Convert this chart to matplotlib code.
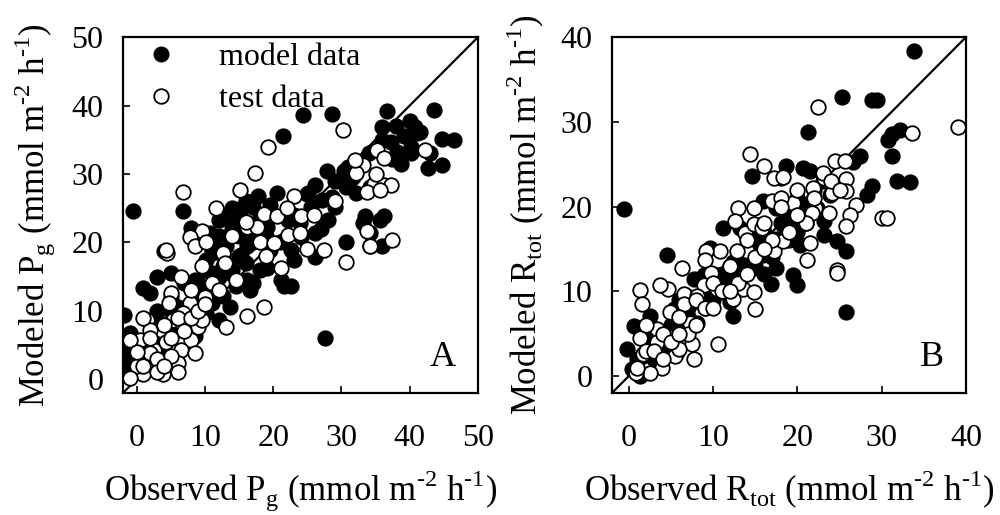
import matplotlib
matplotlib.use("Agg")
import matplotlib.pyplot as plt
from matplotlib.lines import Line2D

plt.rcParams['font.family'] = ['Liberation Serif', 'DejaVu Serif']
plt.rcParams['mathtext.fontset'] = 'custom'
plt.rcParams['mathtext.rm'] = 'Liberation Serif'

# ---------------- Panel A: gross photosynthesis ----------------
a_model_x = [24.4, 28.6, 36.7, 43.5, 21.4, 35.9, 40.0, 40.7, 41.5, 39.2, 44.7, 46.5, 40.2, 37.2,
             38.2, 40.2, 42.7, 44.7, 37.4, 27.9, 30.4, 31.2, 30.7, 26.1, 25.1, 28.6, 29.1, 28.1,
             27.1, -0.5, 6.8, 20.6, 17.8, 19.6, 17.1, 15.6, 13.6, 12.1, 10.8, 8.0, 11.6, 13.1,
             14.1, 12.6, 15.3, 16.1, 19.1, 22.1, 23.9, 26.1, 30.7, 26.1, 23.1, 22.6, 19.6, 18.1,
             19.1, 21.6, 22.6, 21.1, 33.4, 35.7, 36.2, 33.2, 34.2, 35.9, 1.0, 3.0, 5.0, 4.0,
             2.0, -1.8, 8.5, 9.0, 11.1, 12.6, 13.6, 12.1, 10.1, 27.6, 6.0, 7.5, -1.0, -2.0,
             -1.5, -1.8, -1.0, 0.5, 1.0, -0.5, 3.0, 6.0, 8.5, 3.5, 16.1, 16.6, 13.6, 14.6,
             17.1, 11.1, 10.1, 17.1, 18.1, 11.1, 12.6, 9.6, 15.1, 38.7, 31.7, 34.2, 32.2,
             25.6, 24.1, 34.2,
             9.0, 10.0, 11.0, 12.0, 13.0, 14.0, 15.0, 16.0, 17.0, 18.0, 12.0, 13.0, 14.0, 15.0,
             16.0, 9.0, 10.0, 11.0, 7.0, 8.0, 5.0, 6.0, 3.0, 4.0, 2.0, 1.0, 0.0, 3.0, 5.0,
             7.0, 14.0, 16.0, 19.0, 21.0, 23.0, 25.0, 27.0, 29.0, 31.0, 34.0, 36.0, 38.0,
             41.0, 43.0]
a_model_y = [38.6, 38.7, 39.2, 39.4, 35.5, 36.9, 37.8, 36.9, 36.1, 35.6, 35.1, 34.9, 33.9, 34.7,
             33.2, 33.0, 30.8, 31.3, 32.2, 30.5, 30.5, 29.1, 28.1, 28.4, 27.2, 26.7, 25.2, 23.3,
             26.2, 24.6, 24.6, 27.2, 26.8, 25.5, 25.2, 25.2, 24.2, 23.3, 21.3, 22.1, 20.8, 19.4,
             22.3, 18.2, 18.2, 19.4, 22.3, 23.3, 22.8, 21.3, 20.1, 17.9, 17.4, 18.9, 18.9, 16.0,
             16.2, 13.6, 13.6, 14.5, 23.8, 23.3, 23.8, 22.8, 21.3, 19.4, 13.3, 15.0, 15.5, 18.7,
             12.6, 9.4, 14.5, 13.6, 11.1, 12.1, 10.6, 8.7, 9.7, 6.0, 10.6, 10.2, 6.8, 5.8,
             3.8, 1.9, 0.9, 3.8, 1.4, 2.9, 8.7, 7.7, 6.3, 4.8, 14.5, 13.1, 15.5, 13.6,
             14.0, 18.4, 17.4, 21.3, 23.3, 15.5, 16.5, 12.6, 23.3, 31.5, 29.6, 28.1, 27.2,
             25.2, 20.8, 19.4,
             14.0, 16.0, 19.0, 21.0, 20.0, 22.0, 21.0, 23.0, 20.0, 24.0, 15.0, 17.0, 16.0, 18.0,
             17.0, 12.0, 11.0, 13.0, 9.0, 11.0, 10.0, 9.0, 6.0, 7.0, 5.0, 3.0, 1.0, 10.0, 12.0,
             14.0, 25.0, 26.0, 21.0, 20.0, 24.0, 27.0, 22.0, 29.0, 31.0, 33.0, 35.0, 37.0,
             36.0, 33.0]

a_test_x = [30.2, 19.3, 17.3, 6.8, 15.1, 23.1, 11.6, 18.6, 20.6, 24.1, 16.1, 17.6, 9.5, 7.8,
            8.5, 10.1, 12.6, 9.5, 4.5, 6.5, 14.6, 18.1, 22.1, 23.9, 21.1, 20.1, 24.9, 27.4,
            30.7, 18.6, 16.1, 13.1, 35.2, 36.2, 33.2, 32.2, 42.2, 34.7, 36.2, 37.2, 33.7, 35.7,
            33.7, 34.2, 37.4, 5.0, 4.8, 7.8, 6.8, 5.3, 3.5, 1.5, 2.0, 0.5, -1.0, 0.0,
            2.5, 4.3, 8.0, 6.5, 8.5, 6.0, 3.8, 1.0, 0.0, -1.0, 6.8, 9.0, 2.0, 5.0,
            3.0, 9.5, 4.3,
            1.0, 2.0, 3.0, 4.0, 5.0, 6.0, 7.0, 8.0, 9.0, 10.0, 11.0, 12.0, 0.0, 1.0,
            3.0, 4.0, 6.0, 8.0, 10.0, 13.0, 14.0, 16.0, 19.0, 22.0, 26.0, 29.0, 32.0, 35.0]
a_test_y = [36.4, 33.9, 30.1, 27.4, 27.6, 26.8, 25.0, 24.2, 23.8, 23.8, 22.3, 22.3, 21.6, 20.8,
            19.4, 20.1, 18.4, 16.5, 18.4, 15.0, 14.5, 20.1, 21.1, 21.3, 16.2, 19.9, 19.1, 18.9,
            17.2, 10.6, 9.2, 7.7, 33.5, 32.3, 31.3, 30.1, 33.5, 28.6, 28.4, 28.4, 27.4, 27.6,
            21.6, 19.4, 20.4, 12.6, 11.1, 11.1, 9.7, 8.7, 7.2, 8.7, 7.2, 5.8, 5.8, 3.8,
            4.3, 5.5, 5.8, 4.3, 3.8, 2.4, 0.7, 0.7, 1.9, 0.2, 7.7, 7.7, 3.8, 3.4,
            1.9, 8.7, 18.9,
            2.0, 6.0, 3.0, 8.0, 6.0, 9.0, 7.0, 9.0, 10.0, 12.0, 14.0, 13.0, 4.0, 9.0,
            1.0, 2.0, 1.0, 13.0, 11.0, 17.0, 21.0, 23.0, 18.0, 25.0, 24.0, 26.0, 32.0, 30.0]

# ---------------- Panel B: total respiration ----------------
b_model_x = [33.8, 25.3, 28.8, 29.4, 21.3, -0.6, 31.2, 32.2, 30.8, 31.2, 31.8, 33.4, 28.8, 28.2,
             27.4, 26.6, 25.8, 25.8, 20.7, 21.5, 18.7, 14.6, 18.1, 4.5, 23.1, 24.7, 20.3, 19.9,
             19.5, 16.9, 17.5, 15.2, 14.8, 12.4, 12.0, 10.4, 9.6, 11.2, 15.9, 17.5, 19.1, 0.6,
             -0.2, 0.4, 1.3, 2.5, 3.3, 5.3, 6.9, 7.7, 8.9, 8.1, 6.5, 12.8, 14.0, 15.6,
             17.5, 18.3, 15.9, 13.2, 12.4, 11.2, 9.2, 4.5, 5.7, 1.7, 22.3, 23.9, 23.1,
             3.0, 4.0, 5.0, 6.0, 7.0, 8.0, 9.0, 10.0, 11.0, 12.0, 13.0, 14.0, 15.0, 16.0,
             17.0, 18.0, 19.0, 20.0, 21.0, 22.0, 23.0, 2.0, 3.0, 5.0, 7.0, 9.0, 11.0, 13.0,
             15.0, 17.0, 19.0, 21.0, 1.0, 2.0, 4.0, 6.0, 10.0, 12.0, 14.0, 16.0, 18.0, 20.0]
b_model_y = [38.3, 32.9, 32.6, 32.6, 28.8, 19.7, 28.6, 29.0, 27.8, 26.0, 23.0, 22.9, 22.4, 21.4,
             26.0, 25.2, 14.7, 7.5, 24.6, 24.2, 24.8, 23.6, 23.4, 14.3, 16.6, 15.9, 15.5, 10.7,
             11.9, 10.9, 12.7, 14.3, 12.7, 7.1, 8.7, 11.9, 15.1, 17.5, 20.6, 19.8, 18.3, 5.9,
             3.2, 0.8, 0.0, 7.1, 4.4, 7.9, 9.5, 11.5, 11.9, 6.3, 6.3, 12.7, 15.1, 16.6,
             16.2, 17.8, 14.3, 17.5, 13.4, 9.9, 8.3, 4.0, 2.8, 2.4, 19.8, 21.4, 18.3,
             4.0, 5.0, 6.0, 6.0, 8.0, 9.0, 10.0, 12.0, 12.0, 13.0, 14.0, 15.0, 15.0, 17.0,
             16.0, 18.0, 19.0, 21.0, 20.0, 22.0, 23.0, 3.0, 2.0, 5.0, 7.0, 8.0, 11.0, 12.0,
             13.0, 14.0, 16.0, 18.0, 2.0, 5.0, 3.0, 9.0, 9.0, 11.0, 13.0, 12.0, 20.0, 17.0]

b_test_x = [22.4, 39.1, 33.6, 14.4, 16.0, 17.2, 18.3, 24.5, 25.7, 23.1, 21.9, 25.8, 25.8, 24.1,
            22.1, 23.7, 21.7, 27.0, 26.2, 25.8, 30.0, 30.6, 17.0, 14.8, 13.0, 12.6, 13.8, 14.8,
            15.8, 17.2, 18.3, 19.5, 21.5, 21.1, 24.7, 24.7, 14.0, 12.8, 10.8, 9.2, 9.0, 9.8,
            8.9, 10.4, 12.8, 13.6, 14.8, 15.0, 12.4, 10.6, 6.3, 4.7, 3.7, 1.3, 1.5, 6.5,
            8.1, 6.5, 4.9, 7.3, 3.3, 1.3, 1.7, 3.9, 2.5, 5.5, 7.5, 7.7, 0.9, 4.5,
            5.9, 3.3,
            2.0, 3.0, 4.0, 5.0, 6.0, 7.0, 8.0, 9.0, 10.0, 11.0, 12.0, 13.0, 14.0, 15.0,
            16.0, 17.0, 18.0, 19.0, 20.0, 21.0, 22.0, 23.0, 24.0, 25.0, 1.0, 2.0, 4.0, 6.0,
            8.0, 10.0, 12.0, 14.0, 16.0, 18.0, 20.0]
b_test_y = [31.8, 29.4, 28.7, 26.2, 24.8, 23.4, 23.5, 25.4, 25.4, 23.4, 22.2, 23.2, 21.8, 21.6,
            19.8, 19.2, 19.2, 20.2, 19.0, 17.7, 18.7, 18.7, 20.6, 19.8, 19.8, 18.3, 16.9, 17.9,
            17.5, 14.7, 15.9, 20.4, 15.7, 13.7, 12.5, 12.1, 14.7, 14.7, 14.7, 14.7, 13.7, 12.1,
            10.7, 10.3, 11.1, 10.3, 9.9, 7.9, 9.1, 3.8, 12.7, 10.3, 10.7, 10.1, 8.5, 9.7,
            9.5, 8.5, 7.5, 6.3, 5.5, 4.5, 2.6, 1.0, 0.4, 2.4, 3.8, 2.0, 0.4, 4.7,
            3.2, 4.0,
            3.0, 3.0, 5.0, 4.0, 7.0, 5.0, 9.0, 8.0, 11.0, 10.0, 13.0, 11.0, 16.0, 14.0,
            18.0, 16.0, 21.0, 17.0, 22.0, 18.0, 21.0, 24.0, 23.0, 22.0, 1.0, 6.0, 2.0, 5.0,
            6.0, 8.0, 10.0, 12.0, 15.0, 20.0, 19.0]

a_ticks = [0, 10, 20, 30, 40, 50]
b_ticks = [0, 10, 20, 30, 40]
a_lim = (-2, 50)
b_lim = (-2, 40)

legend_labels = ["model data", "test data"]
H = "\u2010"
a_xlabel = r"Observed P$_\mathregular{g}$ (mmol m$^\mathregular{" + H + r"2}$ h$^\mathregular{" + H + r"1}$)"
a_ylabel = r"Modeled P$_\mathregular{g}$ (mmol m$^\mathregular{" + H + r"2}$ h$^\mathregular{" + H + r"1}$)"
b_xlabel = r"Observed R$_\mathregular{tot}$ (mmol m$^\mathregular{" + H + r"2}$ h$^\mathregular{" + H + r"1}$)"
b_ylabel = r"Modeled R$_\mathregular{tot}$ (mmol m$^\mathregular{" + H + r"2}$ h$^\mathregular{" + H + r"1}$)"

fig = plt.figure(figsize=(10, 5.15), dpi=100)
axA = fig.add_axes([0.123, 0.237, 0.355, 0.691])
axB = fig.add_axes([0.612, 0.237, 0.354, 0.691])

ms = 110
for ax, mx, my, tx, ty, lim, ticks, xl, yl, tag in [
        (axA, a_model_x, a_model_y, a_test_x, a_test_y, a_lim, a_ticks, a_xlabel, a_ylabel, "A"),
        (axB, b_model_x, b_model_y, b_test_x, b_test_y, b_lim, b_ticks, b_xlabel, b_ylabel, "B")]:
    ax.plot(lim, lim, color='black', lw=1.6, zorder=1)
    ax.scatter(mx, my, s=ms, facecolor='black', edgecolor='black', linewidths=1.2, zorder=2)
    ax.scatter(tx, ty, s=ms, facecolor='white', edgecolor='black', linewidths=1.3, zorder=3)
    ax.set_xlim(lim)
    ax.set_ylim(lim)
    ax.set_xticks(ticks)
    ax.set_yticks(ticks)
    ax.tick_params(direction='in', length=5, width=1.2, labelsize=23, top=False, right=False)
    ax.tick_params(axis='x', pad=22)
    ax.tick_params(axis='y', pad=14)
    for sp in ax.spines.values():
        sp.set_linewidth(1.6)
    ax.set_xlabel(xl, fontsize=25, labelpad=12)
    ax.set_ylabel(yl, fontsize=25, labelpad=10)
    ax.text(0.90 if tag == "A" else 0.905, 0.10, tag, transform=ax.transAxes,
            fontsize=26, ha='center', va='center')

handles = [Line2D([], [], ls='', marker='o', markersize=10.5, markerfacecolor='black',
                  markeredgecolor='black'),
           Line2D([], [], ls='', marker='o', markersize=10.5, markerfacecolor='white',
                  markeredgecolor='black', markeredgewidth=1.3)]
axA.legend(handles, legend_labels, loc='upper left', bbox_to_anchor=(0.0, 1.02), frameon=False,
           fontsize=23, handletextpad=1.0, labelspacing=0.4, borderaxespad=0.0,
           handlelength=1.6)

fig.savefig("out.png", dpi=100)
